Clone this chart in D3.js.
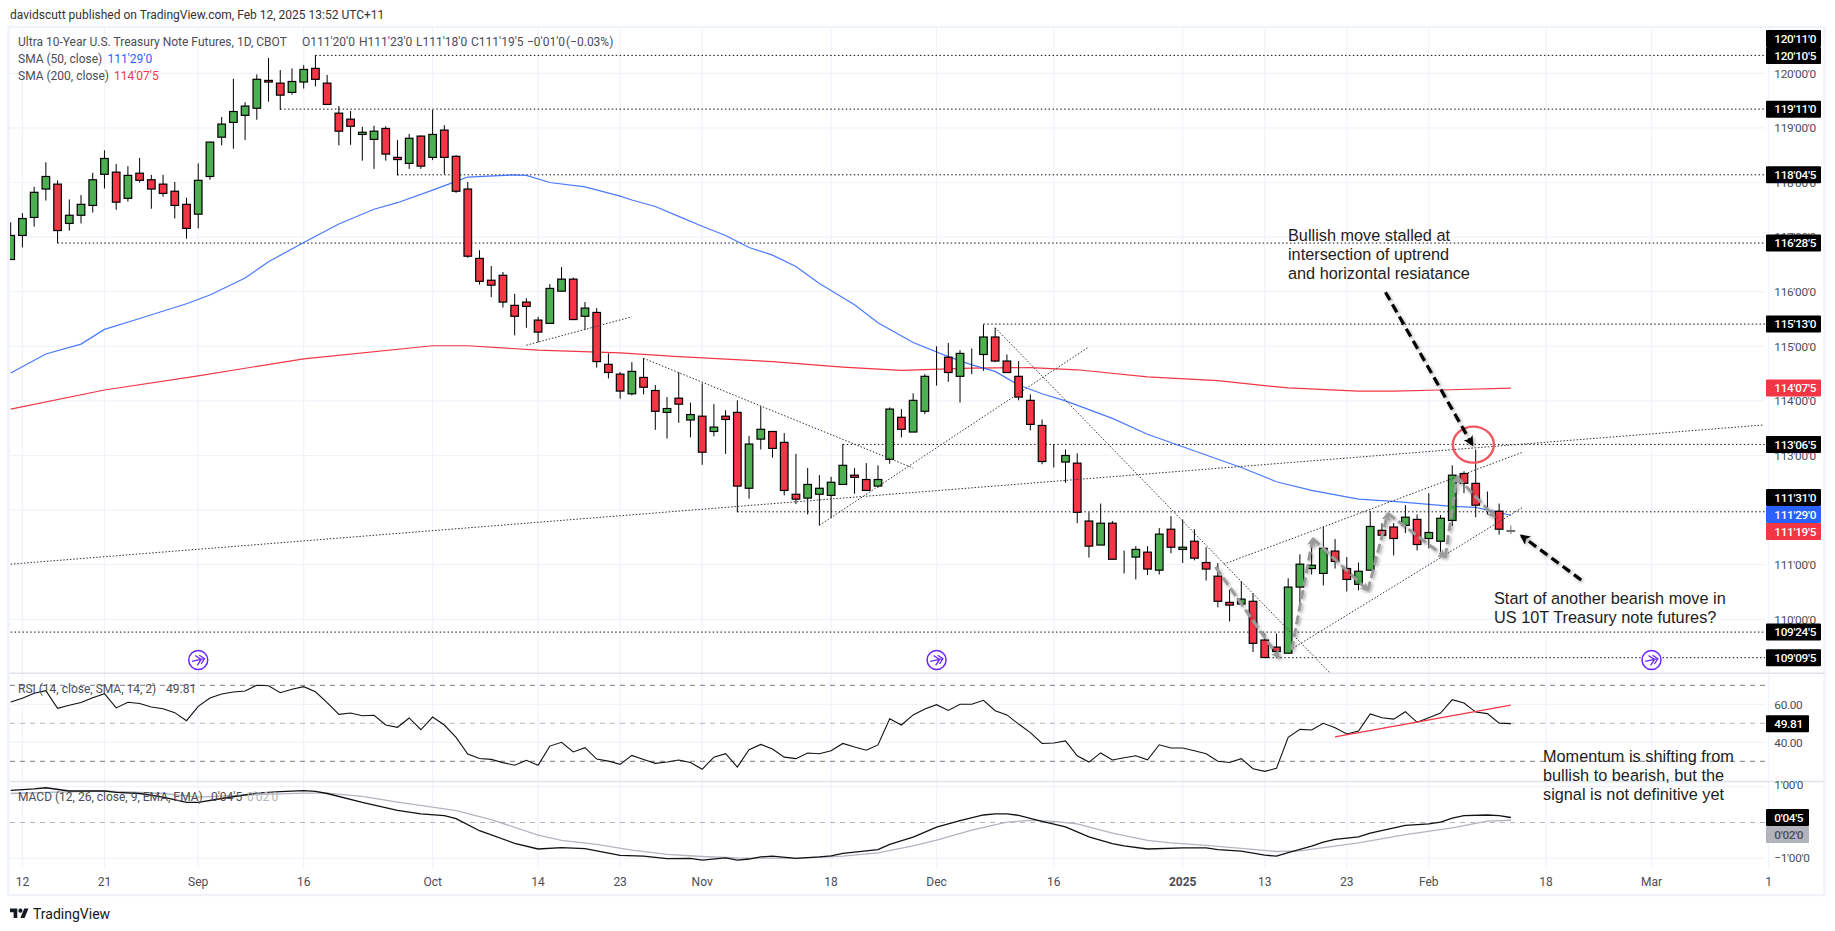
<!DOCTYPE html>
<html>
<head>
<meta charset="utf-8">
<script src="https://cdn.jsdelivr.net/npm/d3@7"></script>
<style>
html, body { margin: 0; padding: 0; background: #fff; overflow: hidden; }
text { font-family: Roboto, "Open Sans", sans-serif; }
.note text { font-family: "Liberation Sans", Arial, sans-serif; }
</style>
</head>
<body>
<div class="viz"></div>
<script>
// daily bars, Aug 9 2024 .. Feb 12 2025 (prices in points)
const opens = [116.59,117.03,117.36,117.88,117.97,117.25,117.40,117.58,118.15,118.19,117.71,118.17,118.05,117.97,117.84,117.60,117.42,118.11,118.83,119.10,119.23,119.36,119.87,119.82,119.65,119.84,120.09,119.82,119.27,119.16,118.88,118.79,118.99,118.46,118.35,118.85,118.46,118.96,118.48,117.88,116.61,116.21,116.30,115.75,115.81,115.48,115.42,116.01,116.23,115.55,115.62,114.67,114.49,114.13,114.43,114.19,113.79,114.05,113.65,113.72,113.44,113.72,113.79,112.40,113.30,113.44,113.24,112.29,112.22,112.29,112.27,112.47,112.64,112.56,112.44,112.93,113.70,113.43,113.81,114.80,114.80,114.45,114.89,114.85,115.17,114.73,114.45,114.01,113.55,112.93,112.88,112.86,111.80,111.36,111.76,111.19,111.14,111.23,110.90,111.65,111.28,111.43,111.04,110.79,110.31,110.28,110.33,109.62,109.49,109.38,110.59,110.93,110.84,111.25,110.93,110.64,110.90,111.63,111.69,111.72,111.83,111.48,111.43,111.81,112.67,112.49,112.03,111.98,111.625];
const highs = [117.27,117.44,117.92,118.37,118.04,117.69,117.77,118.18,118.59,118.34,118.30,118.45,118.14,118.14,118.01,117.72,118.35,118.74,119.20,119.90,119.47,119.98,120.28,120.06,120.09,120.15,120.33,119.97,119.40,119.31,119.02,119.04,119.03,118.78,118.89,118.86,119.33,119.05,118.50,118.01,116.76,116.47,116.36,115.96,115.88,115.54,116.14,116.45,116.26,115.81,115.70,114.87,114.53,114.71,114.78,114.29,114.07,114.53,113.97,114.32,113.94,113.83,114.01,113.36,113.90,113.44,113.41,113.03,112.77,112.64,112.61,113.21,112.77,112.86,112.82,113.88,113.85,114.14,114.49,115.00,115.06,114.93,114.96,115.40,115.34,114.85,114.73,114.12,113.66,113.21,113.11,113.04,111.96,112.12,111.80,111.26,111.34,111.34,111.67,111.89,111.83,111.65,111.32,111.03,110.54,110.70,110.48,109.74,109.74,110.75,111.19,111.36,111.70,111.47,111.14,111.04,111.98,111.76,111.76,112.09,111.92,112.31,111.91,112.82,112.71,113.11,112.34,112.12,111.72];
const lows = [116.59,116.81,117.19,117.67,116.89,117.12,117.25,117.45,117.89,117.50,117.65,118.00,117.52,117.74,117.34,116.97,117.16,118.05,118.68,118.62,118.78,119.15,119.48,119.33,119.61,119.72,119.76,119.43,118.68,118.69,118.40,118.25,118.40,118.13,118.25,118.25,118.41,118.15,117.81,116.62,116.13,115.90,115.71,115.20,115.34,115.07,115.42,116.01,115.48,115.30,114.61,114.41,114.04,114.10,114.12,113.47,113.31,113.60,113.33,112.83,113.35,113.03,111.96,112.21,113.11,112.96,112.27,112.11,111.92,111.72,111.85,112.47,112.30,112.35,112.41,112.85,113.33,113.43,113.76,114.28,114.35,113.97,114.49,114.55,114.71,114.51,114.01,113.46,112.84,112.78,112.50,111.76,111.13,111.36,111.10,110.84,110.73,110.81,110.82,111.21,111.03,111.08,110.71,110.22,109.96,110.28,109.40,109.30,109.30,109.38,110.28,110.82,110.62,110.93,110.51,110.53,110.90,111.54,111.17,111.58,111.26,111.30,111.14,111.71,112.31,111.87,111.91,111.55,111.5625];
const closes = [117.03,117.34,117.82,118.11,117.12,117.40,117.60,118.05,118.44,117.64,118.13,118.04,117.88,117.80,117.58,117.16,118.04,118.74,119.07,119.30,119.40,119.89,119.84,119.60,119.85,120.07,119.89,119.43,118.94,119.03,118.92,118.94,118.52,118.42,118.81,118.30,118.88,118.46,117.84,116.65,116.19,116.12,115.81,115.55,115.73,115.26,116.06,116.23,115.49,115.70,114.72,114.52,114.18,114.54,114.25,113.81,113.86,113.94,113.75,113.06,113.52,113.66,112.44,113.21,113.48,113.13,112.36,112.20,112.47,112.40,112.51,112.82,112.60,112.36,112.56,113.85,113.48,114.01,114.45,114.80,114.52,114.87,114.89,115.17,114.73,114.52,114.07,113.57,112.89,112.93,113.00,111.96,111.34,111.76,111.10,111.19,111.28,110.92,111.56,111.32,111.32,111.12,110.92,110.33,110.26,110.37,109.56,109.30,109.41,110.59,111.01,110.99,111.30,111.06,110.73,110.88,111.70,111.54,111.48,111.87,111.37,111.59,111.85,112.64,112.49,112.09,112.03,111.65,111.61];

// moving averages: bar number and value at the points read
const sma50Bars = [0,3,6,8,11,15,17,20,22,25,28,31,33,36,38,39,43,44,46,49,52,53,55,57,59,61,63,65,67,69,72,74,77,80,82,84,86,88,90,94,97,100,105,108,111,115,118,123,125,128];
const sma50 = [114.51,114.86,115.04,115.31,115.51,115.78,115.94,116.25,116.55,116.90,117.24,117.51,117.63,117.86,118.02,118.10,118.14,118.13,118.00,117.92,117.75,117.68,117.56,117.38,117.20,117.03,116.81,116.67,116.46,116.15,115.76,115.43,115.07,114.81,114.66,114.54,114.29,114.13,114.00,113.68,113.39,113.16,112.78,112.52,112.36,112.20,112.16,112.07,112.05,111.906];
const sma200Bars = [0,8,16,25,36,39,45,52,57,65,71,76,82,87,91,97,103,107,109,115,118,122,128];
const sma200 = [113.85,114.20,114.46,114.77,115.01,115.01,114.93,114.88,114.81,114.72,114.62,114.56,114.60,114.61,114.57,114.44,114.37,114.28,114.24,114.18,114.18,114.20,114.234];

const rsi = [61.2,63.2,65.8,67.2,57.9,59.5,60.9,63.5,65.6,58.1,61.1,60.4,58.6,57.7,55.6,51.4,58.9,63.3,65.4,66.5,67.0,70.0,69.8,66.1,67.9,69.3,66.6,60.9,54.7,55.4,54.0,54.2,49.1,47.9,52.8,46.6,53.3,49.1,42.6,33.8,31.5,31.0,29.3,27.9,30.5,27.9,38.0,40.0,34.9,37.2,31.2,30.1,28.4,33.1,31.0,28.9,29.6,30.7,29.4,25.8,32.2,34.0,27.0,36.1,38.9,36.5,32.2,31.4,34.4,34.0,35.6,39.4,37.5,35.8,38.6,52.4,49.1,54.4,57.5,59.8,56.8,60.0,60.0,62.1,56.6,54.4,49.6,45.1,39.4,39.6,40.7,32.9,29.6,34.4,30.7,31.9,32.9,30.8,38.7,37.0,37.0,35.6,34.0,30.0,29.4,31.4,26.1,24.7,26.3,42.6,46.8,46.5,50.0,47.7,44.4,45.9,54.9,52.9,52.2,56.1,50.5,52.9,55.4,62.4,60.7,55.9,55.1,50.1,49.81];

const macdBars = [0,2,3,5,8,9,11,13,15,16,18,21,23,25,26,27,30,33,35,37,38,40,43,45,47,49,52,54,56,58,59,61,62,63,64,65,67,69,70,71,73,74,75,77,79,81,83,84,85,86,88,90,92,94,95,97,100,102,103,105,107,108,109,111,112,113,115,116,119,121,122,123,124,126,127,128];
const macd = [.90,.94,.97,.88,.88,.84,.81,.71,.56,.56,.67,.82,.86,.89,.87,.81,.56,.34,.24,.19,.11,-.23,-.58,-.74,-.70,-.73,-.92,-.94,-1.01,-1.00,-1.05,-.99,-1.05,-1.02,-.96,-.94,-1.00,-.96,-.93,-.86,-.79,-.76,-.61,-.41,-.13,.05,.21,.24,.24,.20,.03,-.12,-.40,-.59,-.65,-.74,-.71,-.71,-.76,-.80,-.91,-.94,-.84,-.66,-.55,-.47,-.40,-.30,-.08,-.04,.01,.12,.19,.21,.19,.14];
const signalBars = [0,3,8,13,16,21,25,27,30,33,36,38,41,45,47,50,53,56,59,62,67,71,74,77,79,82,85,87,89,91,94,97,99,102,105,108,110,115,119,123,126,128];
const signal = [.81,.84,.88,.81,.71,.78,.82,.82,.73,.57,.43,.33,.08,-.35,-.50,-.61,-.77,-.89,-.95,-.99,-1.00,-.94,-.85,-.65,-.49,-.21,.01,.06,.03,-.04,-.30,-.50,-.57,-.64,-.72,-.81,-.79,-.57,-.34,-.15,.04,.0625];

// axis ticks
const timeTickBars = [1,8,16,25,36,45,52,59,70,79,89,100,107,114,121,131,140,150];
const timeTickLabels = ['12','21','Sep','16','Oct','14','23','Nov','18','Dec','16','2025','13','23','Feb','18','Mar','1'];
const priceTicks = [120,119,118,117,116,115,114,113,112,111,110];
const rsiTicks = [60,40];
const macdTicks = [1,-1];
const macdTickLabels = ["1'00'0","\u22121'00'0"];

// drawn levels: first bar of the line and the level as shown on the axis
const levelLabels = ["120'10'5","119'11'0","118'04'5","116'28'5","115'13'0","113'06'5","111'31'0","109'24'5","109'09'5"];
const levelBars = [26,23,33,4,83,71,62,0,107];

// drawn trend lines [bar, price, bar, price]
const trendLines = [
  [0,111.01,149.6,113.56],
  [44,115.02,53,115.54],
  [54,114.78,77,112.77],
  [69,111.72,92,114.99],
  [84,115.34,112.6,109.01],
  [103.5,111.01,129,113.06],
  [109.4,109.47,129,112.05]
];
// grey swing arrows
const swingBars = [102.8,108.2,109.3,111.1,115.8,117.5,122.4,123.4,126.6];
const swingPrices = [110.96,109.30,109.44,111.48,110.53,111.94,111.14,112.61,111.88];
const eventBars = [16,79,140];

const noteTop = ['Bullish move stalled at','intersection of uptrend','and horizontal resiatance'];
const noteMid = ['Start of another bearish move in','US 10T Treasury note futures?'];
const noteLow = ['Momentum is shifting from','bullish to bearish, but the','signal is not definitive yet'];

const GREEN = '#4caf50', RED = '#f23645', BLUE = '#2962ff', TXT = '#4a4d57';
const plotLeft = 10, plotRight = 1765;

const svg = d3.select('.viz').append('svg').attr('width', 1835).attr('height', 931);

const x = d3.scaleLinear().domain([0, 128]).range([10.7, 10.7 + 128 * 11.72]);
const y = d3.scaleLinear().domain([110, 120]).range([619.3, 73.3]);
const yRsi = d3.scaleLinear().domain([30, 70]).range([761.3, 685.3]);
const yMacd = d3.scaleLinear().domain([-1, 1]).range([858.3, 786.7]);

const parse32 = (s) => {
  const p = s.split("'");
  return +p[0] + (+p[1] + (+p[2]) / 10) / 32;
};

const defs = svg.append('defs');
defs.append('clipPath').attr('id', 'main').append('rect')
  .attr('x', plotLeft).attr('y', 28).attr('width', plotRight - plotLeft).attr('height', 645);
defs.append('clipPath').attr('id', 'low').append('rect')
  .attr('x', plotLeft).attr('y', 673).attr('width', plotRight - plotLeft).attr('height', 195);
const shadow = defs.append('filter').attr('id', 'shade')
  .attr('x', '-30%').attr('y', '-30%').attr('width', '160%').attr('height', '160%');
shadow.append('feDropShadow').attr('dx', 1.5).attr('dy', 1.5).attr('stdDeviation', 1.6)
  .attr('flood-color', '#000').attr('flood-opacity', 0.35);
[['headBlack', '#000', 3.2], ['headGrey', '#9a9a9a', 3]].forEach(([id, col, s]) => {
  defs.append('marker').attr('id', id).attr('viewBox', '0 0 10 10').attr('refX', 8).attr('refY', 5)
    .attr('markerWidth', s).attr('markerHeight', s).attr('orient', 'auto')
    .append('path').attr('d', 'M0 0L10 5L0 10L2.5 5Z').attr('fill', col);
});

// frame and grid
svg.append('rect').attr('x', 8.5).attr('y', 27).attr('width', 1816).attr('height', 868)
  .attr('fill', 'none').attr('stroke', '#f0f3fa').attr('stroke-width', 2.5);
const grid = svg.append('g').attr('stroke', '#f0f3fa').attr('stroke-width', 1.2);
grid.selectAll('.v').data(timeTickBars).enter().append('line')
  .attr('x1', x).attr('x2', x).attr('y1', 28).attr('y2', 868);
const hLine = (sel, scale, vals) => sel.selectAll(null).data(vals).enter().append('line')
  .attr('x1', plotLeft).attr('x2', plotRight).attr('y1', scale).attr('y2', scale);
hLine(grid, y, priceTicks);
hLine(grid, yRsi, rsiTicks);
hLine(grid, yMacd, macdTicks);

const sep = svg.append('g').attr('stroke', '#e0e3eb').attr('stroke-width', 1.5);
[673.3, 781.5].forEach(v => sep.append('line').attr('x1', plotLeft).attr('x2', 1825).attr('y1', v).attr('y2', v));

// indicator guide lines
const dashes = svg.append('g').attr('stroke-width', 1).attr('stroke-dasharray', '5 5');
[[70, '#787b86'], [50, '#b2b5be'], [30, '#787b86']].forEach(([v, c]) => {
  dashes.append('line').attr('x1', plotLeft).attr('x2', plotRight)
    .attr('y1', yRsi(v)).attr('y2', yRsi(v)).attr('stroke', c);
});
dashes.append('line').attr('x1', plotLeft).attr('x2', plotRight)
  .attr('y1', yMacd(0)).attr('y2', yMacd(0)).attr('stroke', '#b2b5be');

const main = svg.append('g').attr('clip-path', 'url(#main)');

// horizontal levels
main.append('g').selectAll('line').data(levelLabels).enter().append('line')
  .attr('x1', (d, i) => x(levelBars[i])).attr('x2', plotRight)
  .attr('y1', d => y(parse32(d))).attr('y2', d => y(parse32(d)))
  .attr('stroke', '#111').attr('stroke-width', 1).attr('stroke-dasharray', '1.5 2.4');

// moving averages
const lineFrom = (bars, vals, scale) => d3.line().x((d, i) => x(bars[i])).y(d => scale(d))(vals);
main.append('path').attr('d', lineFrom(sma200Bars, sma200, y)).attr('fill', 'none').attr('stroke', RED).attr('stroke-width', 1.2);
main.append('path').attr('d', lineFrom(sma50Bars, sma50, y)).attr('fill', 'none').attr('stroke', BLUE).attr('stroke-width', 1.2).attr('opacity', 0.85);

// candles
const candle = main.append('g').selectAll('g').data(d3.range(opens.length)).enter().append('g')
  .attr('opacity', i => i === opens.length - 1 ? 0.55 : 1);
candle.append('line')
  .attr('x1', x).attr('x2', x)
  .attr('y1', i => y(highs[i])).attr('y2', i => y(lows[i]))
  .attr('stroke', '#000').attr('stroke-width', 1);
candle.append('rect')
  .attr('x', i => x(i) - 3.8).attr('width', 7.6)
  .attr('y', i => y(Math.max(opens[i], closes[i])))
  .attr('height', i => Math.abs(y(opens[i]) - y(closes[i])))
  .attr('fill', i => closes[i] >= opens[i] ? GREEN : RED)
  .attr('stroke', '#000').attr('stroke-width', 1.2);

// trend lines
main.append('g').selectAll('line').data(trendLines).enter().append('line')
  .attr('x1', d => x(d[0])).attr('y1', d => y(d[1]))
  .attr('x2', d => x(d[2])).attr('y2', d => y(d[3]))
  .attr('stroke', '#333').attr('stroke-width', 1).attr('stroke-dasharray', '1.5 1.8');

// swing arrows
const swing = main.append('g').attr('filter', 'url(#shade)');
d3.range(swingBars.length - 1).forEach(i => {
  if (i === 1) return; // gap at the January low
  swing.append('line')
    .attr('x1', x(swingBars[i])).attr('y1', y(swingPrices[i]))
    .attr('x2', x(swingBars[i + 1])).attr('y2', y(swingPrices[i + 1]))
    .attr('stroke', '#9a9a9a').attr('stroke-width', 3).attr('stroke-dasharray', '9 4')
    .attr('marker-end', 'url(#headGrey)');
});

// red circle and black arrows
main.append('ellipse').attr('cx', x(124.8)).attr('cy', y(113.2)).attr('rx', 20.5).attr('ry', 18)
  .attr('fill', 'none').attr('stroke', '#f0585f').attr('stroke-width', 2.4);
const bigArrow = (b0, p0, b1, p1) => main.append('line')
  .attr('x1', x(b0)).attr('y1', y(p0)).attr('x2', x(b1)).attr('y2', y(p1))
  .attr('stroke', '#000').attr('stroke-width', 3.2).attr('stroke-dasharray', '9 5')
  .attr('marker-end', 'url(#headBlack)').attr('filter', 'url(#shade)');
bigArrow(117.3, 115.99, 124.7, 113.2);
bigArrow(134, 110.72, 128.9, 111.53);

// event icons
const ev = main.append('g').selectAll('g').data(eventBars).enter().append('g')
  .attr('transform', d => `translate(${x(d)},660)`);
ev.append('circle').attr('r', 9.5).attr('fill', '#fff').attr('stroke', '#6a26ff').attr('stroke-width', 1.5);
ev.append('path').attr('d', 'M-6.5 0H5M-2 -5L3 0L-2 5M2 -4.5L6.5 0L2 4.5').attr('transform', 'rotate(-12)')
  .attr('fill', 'none').attr('stroke', '#6a26ff').attr('stroke-width', 1.3);

// rsi and macd panes
const low = svg.append('g').attr('clip-path', 'url(#low)');
low.append('path').attr('d', d3.line().x((d, i) => x(i)).y(d => yRsi(d))(rsi))
  .attr('fill', 'none').attr('stroke', '#111').attr('stroke-width', 1.1);
low.append('line').attr('x1', x(113)).attr('x2', x(128)).attr('y1', yRsi(42.8)).attr('y2', yRsi(59.6))
  .attr('stroke', RED).attr('stroke-width', 1.3);
low.append('path').attr('d', lineFrom(signalBars, signal, yMacd))
  .attr('fill', 'none').attr('stroke', '#b2b5be').attr('stroke-width', 1.3);
low.append('path').attr('d', lineFrom(macdBars, macd, yMacd))
  .attr('fill', 'none').attr('stroke', '#111').attr('stroke-width', 1.3);

// right axis
const axisText = (yy, s, col) => svg.append('text').attr('x', 1774.3).attr('y', yy).attr('dy', '0.36em')
  .attr('font-size', 11.8).attr('letter-spacing', -0.3).attr('fill', col || TXT).text(s);
priceTicks.filter(p => p !== 112).forEach(p => axisText(y(p), `${p}'00'0`));
rsiTicks.forEach(v => axisText(yRsi(v), v.toFixed(2)));
macdTicks.forEach((v, i) => axisText(yMacd(v) + (v > 0 ? -1.5 : -0.5), macdTickLabels[i]));

// value boxes, stacked upward when they would overlap
const boxes = levelLabels.map(s => ({ s, v: parse32(s), c: '#000' }))
  .concat([{ s: "120'11'0", v: parse32("120'11'0"), c: '#000' },
    { s: "114'07'5", v: parse32("114'07'5"), c: RED },
    { s: "111'29'0", v: parse32("111'29'0"), c: BLUE },
    { s: "111'19'5", v: parse32("111'19'5"), c: RED }])
  .sort((a, b) => a.v - b.v);
let lastY = Infinity;
const boxH = 17;
boxes.forEach(b => {
  b.y = Math.min(y(b.v), lastY - boxH);
  lastY = b.y;
});
const valueBox = (yy, w, s, fill, ink) => {
  svg.append('rect').attr('x', 1766).attr('y', yy - boxH / 2).attr('width', w).attr('height', boxH)
    .attr('rx', 1).attr('fill', fill);
  svg.append('text').attr('x', 1774.3).attr('y', yy).attr('dy', '0.36em')
    .attr('font-size', 11.8).attr('letter-spacing', -0.3).attr('font-weight', 500).attr('fill', ink || '#fff').text(s);
};
boxes.forEach(b => valueBox(b.y, 55, b.s, b.c));
valueBox(yRsi(49.81), 43, '49.81', '#000');
valueBox(yMacd(0.14), 43, "0'04'5", '#000');
valueBox(yMacd(0.14) + boxH, 43, "0'02'0", '#b2b5be', '#4a4d57');

// time axis
svg.append('g').selectAll('text').data(timeTickBars).enter().append('text')
  .attr('x', x).attr('y', 882).attr('dy', '0.36em').attr('text-anchor', 'middle')
  .attr('font-size', 12).attr('fill', TXT)
  .attr('font-weight', (d, i) => timeTickLabels[i] === '2025' ? 700 : 400)
  .text((d, i) => timeTickLabels[i]);

// header and legends: each part is [text, x, colour]
const legend = (yy, parts) => {
  const row = svg.append('g');
  parts.forEach(([s, xx, c]) => row.append('text').attr('x', xx).attr('y', yy).attr('dy', '0.36em')
    .attr('font-size', 12).attr('fill', c || TXT).text(s));
};
legend(15, [['davidscutt published on TradingView.com, Feb 12, 2025 13:52 UTC+11', 10, '#333']]);
legend(41.5, [['Ultra 10-Year U.S. Treasury Note Futures, 1D, CBOT', 18], ["O111'20'0", 302], ["H111'23'0", 359], ["L111'18'0", 416], ["C111'19'5", 471], ["\u22120'01'0", 527], ['(\u22120.03%)', 566]]);
legend(59, [['SMA (50, close)', 18], ["111'29'0", 107.5, BLUE]]);
legend(76, [['SMA (200, close)', 18], ["114'07'5", 114, RED]]);
legend(689, [['RSI (14, close, SMA, 14, 2)', 18], ['49.81', 166]]);
legend(796.5, [['MACD (12, 26, close, 9, EMA, EMA)', 18], ["0'04'5", 211], ["0'02'0", 247, '#b2b5be']]);

// notes
const note = (xx, yy, lines) => {
  svg.append('g').attr('class', 'note').selectAll('text').data(lines).enter().append('text')
    .attr('x', xx).attr('y', (d, i) => yy + i * 19).attr('dy', '0.36em')
    .attr('font-size', 16.3).attr('fill', '#1d1d22').text(d => d);
};
note(1288, 235, noteTop);
note(1494, 598.5, noteMid);
note(1543, 756, noteLow);

// logo
const logo = svg.append('g').attr('transform', 'translate(10,906.5) scale(0.52)').attr('fill', '#131722');
logo.append('path').attr('d', 'M14 22H7V11H0V4h14v18zM28 22h-8l7.5-18h8L28 22z');
logo.append('circle').attr('cx', 20).attr('cy', 8).attr('r', 4);
svg.append('text').attr('x', 33).attr('y', 913.5).attr('dy', '0.36em').attr('font-size', 14)
  .attr('fill', '#131722').text('TradingView');
</script>
</body>
</html>
